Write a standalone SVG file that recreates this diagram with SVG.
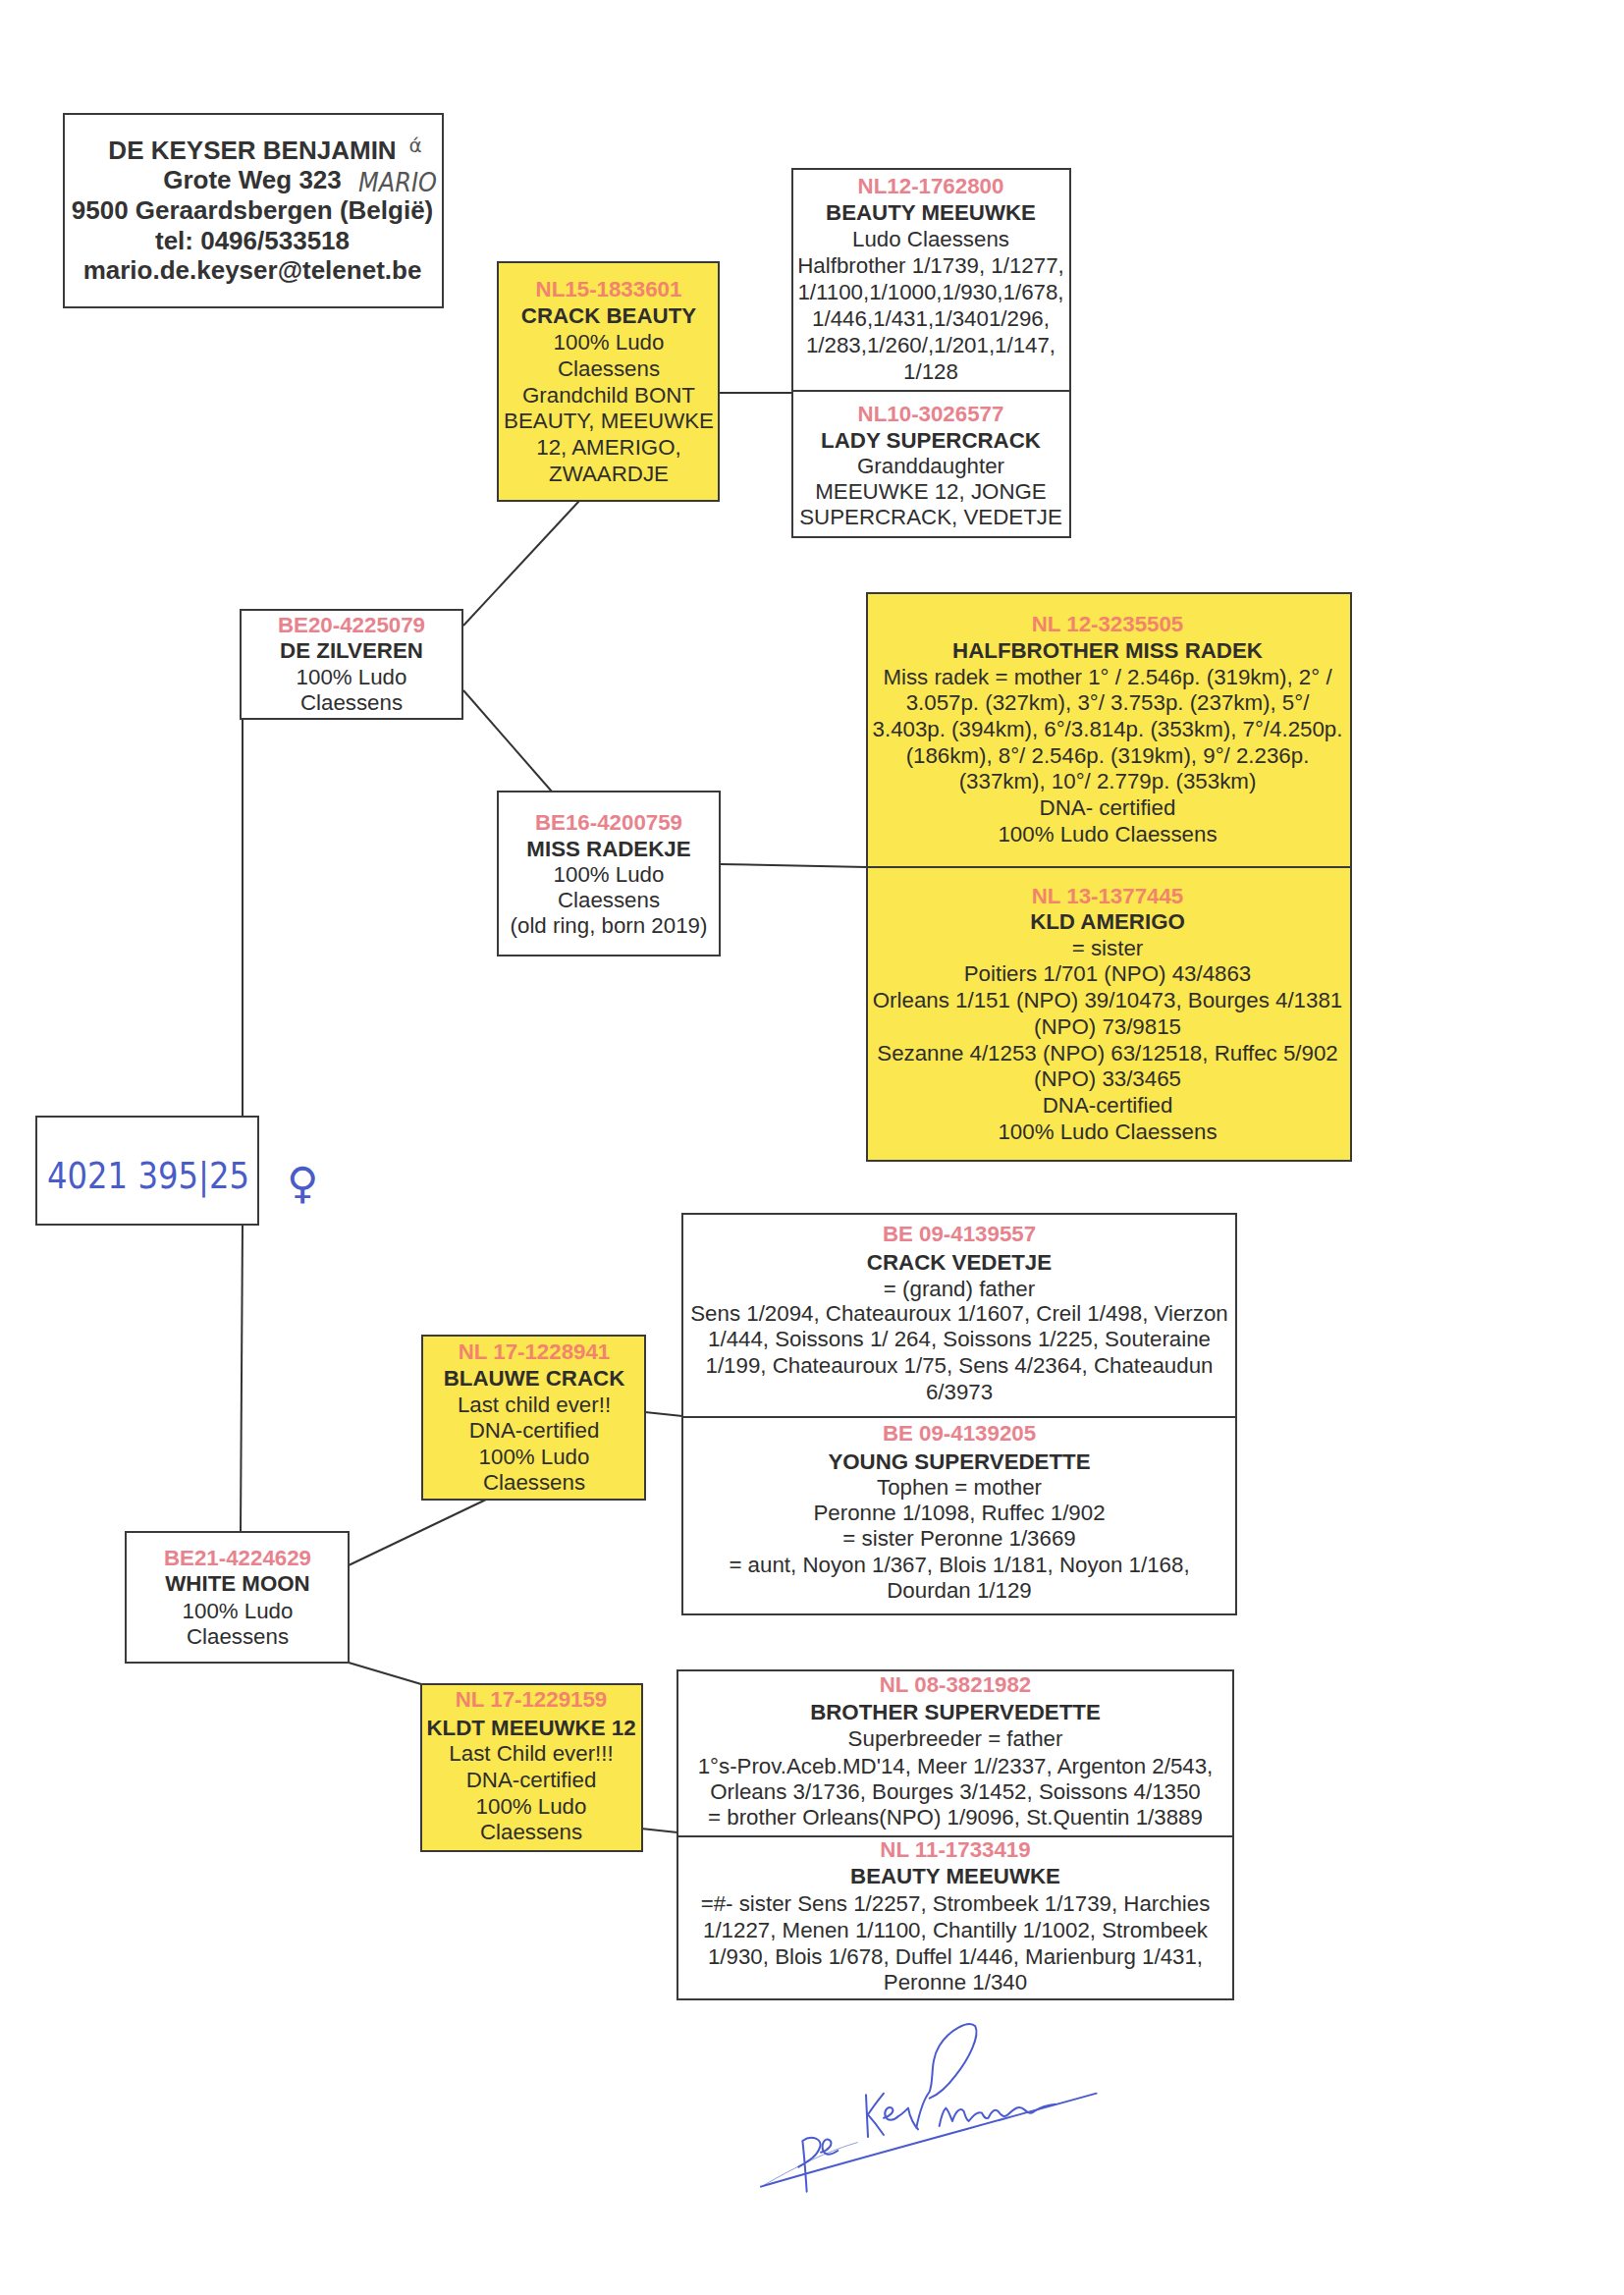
<svg xmlns="http://www.w3.org/2000/svg" width="1654" height="2337" viewBox="0 0 1654 2337">
<style>
.bg{fill:#ffffff}
.box{fill:#ffffff;stroke:#3a3a3a;stroke-width:2}
.ybox{fill:#fbe74f;stroke:#3a3a3a;stroke-width:2}
.t{font-family:'Liberation Sans',Arial,sans-serif;font-size:22.3px;fill:#2e2e2e;text-anchor:middle}
.b{font-weight:bold}
.id{font-weight:bold;fill:#e8838d}
.idy{font-weight:bold;fill:#f2846e}
.hdr{font-size:26px;font-weight:bold;fill:#333333}
.hand{font-family:'DejaVu Sans','Liberation Sans',sans-serif;fill:#4a5cc8}
.conn line{stroke:#333333;stroke-width:2}
.sig{fill:none;stroke:#4a5bd0;stroke-width:6;stroke-linecap:round;stroke-linejoin:round}
</style>
<rect class="bg" x="0" y="0" width="1654" height="2337"/>

<g id="connectors" class="conn">
<line x1="732" y1="400" x2="807" y2="400"/>
<line x1="590" y1="510" x2="472" y2="637"/>
<line x1="472" y1="703" x2="562" y2="806"/>
<line x1="733" y1="880" x2="883" y2="883"/>
<line x1="247" y1="732" x2="247" y2="1137"/>
<line x1="247" y1="1247" x2="245" y2="1560"/>
<line x1="355" y1="1594" x2="495" y2="1527"/>
<line x1="657" y1="1438" x2="695" y2="1442"/>
<line x1="355" y1="1693" x2="429" y2="1715"/>
<line x1="653" y1="1862" x2="690" y2="1866"/>
</g>

<g id="header">
<rect class="box" x="65" y="116" width="386" height="197"/>
<text class="t hdr" x="257" y="162">DE KEYSER BENJAMIN</text>
<text class="t hdr" x="257" y="192">Grote Weg 323</text>
<text class="t hdr" x="257" y="223">9500 Geraardsbergen (België)</text>
<text class="t hdr" x="257" y="254">tel: 0496/533518</text>
<text class="t hdr" x="257" y="284">mario.de.keyser@telenet.be</text>
<text class="hand" x="423" y="155" font-size="20" text-anchor="middle" style="fill:#555555">ά</text>
<text class="hand" x="365" y="195" font-size="26" textLength="80" lengthAdjust="spacingAndGlyphs" style="fill:#555555;font-style:italic">MARIO</text>
</g>

<g id="crack-beauty">
<rect class="ybox" x="507" y="267" width="225" height="243"/>
<text class="t idy" x="620" y="302">NL15-1833601</text>
<text class="t b" x="620" y="329">CRACK BEAUTY</text>
<text class="t" x="620" y="356">100% Ludo</text>
<text class="t" x="620" y="383">Claessens</text>
<text class="t" x="620" y="410">Grandchild BONT</text>
<text class="t" x="620" y="436">BEAUTY, MEEUWKE</text>
<text class="t" x="620" y="463">12, AMERIGO,</text>
<text class="t" x="620" y="490">ZWAARDJE</text>
</g>

<g id="beauty-meeuwke-1">
<rect class="box" x="807" y="172" width="283" height="226"/>
<text class="t id" x="948" y="197">NL12-1762800</text>
<text class="t b" x="948" y="224">BEAUTY MEEUWKE</text>
<text class="t" x="948" y="251">Ludo Claessens</text>
<text class="t" x="948" y="278">Halfbrother 1/1739, 1/1277,</text>
<text class="t" x="948" y="305">1/1100,1/1000,1/930,1/678,</text>
<text class="t" x="948" y="332">1/446,1/431,1/3401/296,</text>
<text class="t" x="948" y="359">1/283,1/260/,1/201,1/147,</text>
<text class="t" x="948" y="386">1/128</text>
</g>

<g id="lady-supercrack">
<rect class="box" x="807" y="398" width="283" height="149"/>
<text class="t id" x="948" y="429">NL10-3026577</text>
<text class="t b" x="948" y="456">LADY SUPERCRACK</text>
<text class="t" x="948" y="482">Granddaughter</text>
<text class="t" x="948" y="508">MEEUWKE 12, JONGE</text>
<text class="t" x="948" y="534">SUPERCRACK, VEDETJE</text>
</g>

<g id="de-zilveren">
<rect class="box" x="245" y="621" width="226" height="111"/>
<text class="t id" x="358" y="644">BE20-4225079</text>
<text class="t b" x="358" y="670">DE ZILVEREN</text>
<text class="t" x="358" y="697">100% Ludo</text>
<text class="t" x="358" y="723">Claessens</text>
</g>

<g id="miss-radekje">
<rect class="box" x="507" y="806" width="226" height="167"/>
<text class="t id" x="620" y="845">BE16-4200759</text>
<text class="t b" x="620" y="872">MISS RADEKJE</text>
<text class="t" x="620" y="898">100% Ludo</text>
<text class="t" x="620" y="924">Claessens</text>
<text class="t" x="620" y="950">(old ring, born 2019)</text>
</g>

<g id="halfbrother-miss-radek">
<rect class="ybox" x="883" y="604" width="493" height="279"/>
<text class="t idy" x="1128" y="643">NL 12-3235505</text>
<text class="t b" x="1128" y="670">HALFBROTHER MISS RADEK</text>
<text class="t" x="1128" y="697">Miss radek = mother 1° / 2.546p. (319km), 2° /</text>
<text class="t" x="1128" y="723">3.057p. (327km), 3°/ 3.753p. (237km), 5°/</text>
<text class="t" x="1128" y="750">3.403p. (394km), 6°/3.814p. (353km), 7°/4.250p.</text>
<text class="t" x="1128" y="777">(186km), 8°/ 2.546p. (319km), 9°/ 2.236p.</text>
<text class="t" x="1128" y="803">(337km), 10°/ 2.779p. (353km)</text>
<text class="t" x="1128" y="830">DNA- certified</text>
<text class="t" x="1128" y="857">100% Ludo Claessens</text>
</g>

<g id="kld-amerigo">
<rect class="ybox" x="883" y="883" width="493" height="299"/>
<text class="t idy" x="1128" y="920">NL 13-1377445</text>
<text class="t b" x="1128" y="946">KLD AMERIGO</text>
<text class="t" x="1128" y="973">= sister</text>
<text class="t" x="1128" y="999">Poitiers 1/701 (NPO) 43/4863</text>
<text class="t" x="1128" y="1026">Orleans 1/151 (NPO) 39/10473, Bourges 4/1381</text>
<text class="t" x="1128" y="1053">(NPO) 73/9815</text>
<text class="t" x="1128" y="1080">Sezanne 4/1253 (NPO) 63/12518, Ruffec 5/902</text>
<text class="t" x="1128" y="1106">(NPO) 33/3465</text>
<text class="t" x="1128" y="1133">DNA-certified</text>
<text class="t" x="1128" y="1160">100% Ludo Claessens</text>
</g>

<g id="ring-4021">
<rect class="box" x="37" y="1137" width="226" height="110"/>
<text class="hand" x="48" y="1210" font-size="38" textLength="206" lengthAdjust="spacingAndGlyphs">4021 395|25</text>
<text class="hand" x="308" y="1220" font-size="44" text-anchor="middle">♀</text>
</g>

<g id="crack-vedetje">
<rect class="box" x="695" y="1236" width="564" height="207"/>
<text class="t id" x="977" y="1264">BE 09-4139557</text>
<text class="t b" x="977" y="1293">CRACK VEDETJE</text>
<text class="t" x="977" y="1320">= (grand) father</text>
<text class="t" x="977" y="1345">Sens 1/2094, Chateauroux 1/1607, Creil 1/498, Vierzon</text>
<text class="t" x="977" y="1371">1/444, Soissons 1/ 264, Soissons 1/225, Souteraine</text>
<text class="t" x="977" y="1398">1/199, Chateauroux 1/75, Sens 4/2364, Chateaudun</text>
<text class="t" x="977" y="1425">6/3973</text>
</g>

<g id="young-supervedette">
<rect class="box" x="695" y="1443" width="564" height="201"/>
<text class="t id" x="977" y="1467">BE 09-4139205</text>
<text class="t b" x="977" y="1496">YOUNG SUPERVEDETTE</text>
<text class="t" x="977" y="1522">Tophen = mother</text>
<text class="t" x="977" y="1548">Peronne 1/1098, Ruffec 1/902</text>
<text class="t" x="977" y="1574">= sister Peronne 1/3669</text>
<text class="t" x="977" y="1601">= aunt, Noyon 1/367, Blois 1/181, Noyon 1/168,</text>
<text class="t" x="977" y="1627">Dourdan 1/129</text>
</g>

<g id="blauwe-crack">
<rect class="ybox" x="430" y="1360" width="227" height="167"/>
<text class="t idy" x="544" y="1384">NL 17-1228941</text>
<text class="t b" x="544" y="1411">BLAUWE CRACK</text>
<text class="t" x="544" y="1438">Last child ever!!</text>
<text class="t" x="544" y="1464">DNA-certified</text>
<text class="t" x="544" y="1491">100% Ludo</text>
<text class="t" x="544" y="1517">Claessens</text>
</g>

<g id="white-moon">
<rect class="box" x="128" y="1560" width="227" height="133"/>
<text class="t id" x="242" y="1594">BE21-4224629</text>
<text class="t b" x="242" y="1620">WHITE MOON</text>
<text class="t" x="242" y="1648">100% Ludo</text>
<text class="t" x="242" y="1674">Claessens</text>
</g>

<g id="kldt-meeuwke-12">
<rect class="ybox" x="429" y="1715" width="225" height="170"/>
<text class="t idy" x="541" y="1738">NL 17-1229159</text>
<text class="t b" x="541" y="1767">KLDT MEEUWKE 12</text>
<text class="t" x="541" y="1793">Last Child ever!!!</text>
<text class="t" x="541" y="1820">DNA-certified</text>
<text class="t" x="541" y="1847">100% Ludo</text>
<text class="t" x="541" y="1873">Claessens</text>
</g>

<g id="brother-supervedette">
<rect class="box" x="690" y="1701" width="566" height="169"/>
<text class="t id" x="973" y="1723">NL 08-3821982</text>
<text class="t b" x="973" y="1751">BROTHER SUPERVEDETTE</text>
<text class="t" x="973" y="1778">Superbreeder = father</text>
<text class="t" x="973" y="1806">1°s-Prov.Aceb.MD'14, Meer 1//2337, Argenton 2/543,</text>
<text class="t" x="973" y="1832">Orleans 3/1736, Bourges 3/1452, Soissons 4/1350</text>
<text class="t" x="973" y="1858">= brother Orleans(NPO) 1/9096, St.Quentin 1/3889</text>
</g>

<g id="beauty-meeuwke-2">
<rect class="box" x="690" y="1870" width="566" height="166"/>
<text class="t id" x="973" y="1891">NL 11-1733419</text>
<text class="t b" x="973" y="1918">BEAUTY MEEUWKE</text>
<text class="t" x="973" y="1946">=#- sister Sens 1/2257, Strombeek 1/1739, Harchies</text>
<text class="t" x="973" y="1973">1/1227, Menen 1/1100, Chantilly 1/1002, Strombeek</text>
<text class="t" x="973" y="2000">1/930, Blois 1/678, Duffel 1/446, Marienburg 1/431,</text>
<text class="t" x="973" y="2026">Peronne 1/340</text>
</g>

<g id="signature" transform="translate(760,2050) scale(0.3333)">
<path class="sig" d="M45,530 C300,455 600,375 1070,245"/>
<path class="sig" style="stroke-width:3;opacity:0.6" d="M55,525 C150,470 250,420 340,395"/>
<path class="sig" d="M185,545 C182,500 178,440 172,390 C200,370 235,385 225,410 C215,440 185,455 160,470"/>
<path class="sig" d="M228,425 C250,420 268,400 255,388 C240,378 228,400 235,420 C242,438 262,432 280,420"/>
<path class="sig" d="M372,378 C370,330 368,290 366,250 M420,245 C400,270 385,290 372,310 C390,330 405,350 420,372"/>
<path class="sig" d="M420,320 C440,315 455,300 445,290 C432,282 420,300 425,315 C430,330 450,330 465,315 C475,310 485,300 495,290 C500,320 515,345 525,355"/>
<path class="sig" d="M520,350 C530,300 545,260 560,240 C575,200 560,150 590,100 C620,50 680,20 700,40 C715,70 680,140 640,190 C610,230 585,250 560,260"/>
<path class="sig" d="M590,345 C595,320 600,300 610,290 C620,300 625,320 630,330 C640,300 655,285 665,300 C670,315 672,325 680,330 C695,310 710,300 720,305 C725,315 730,325 740,320 C750,300 760,290 770,300 C780,315 790,320 800,310 C820,290 835,280 850,295 C860,305 870,310 880,300 C900,285 920,280 945,278"/>
</g>
</svg>
